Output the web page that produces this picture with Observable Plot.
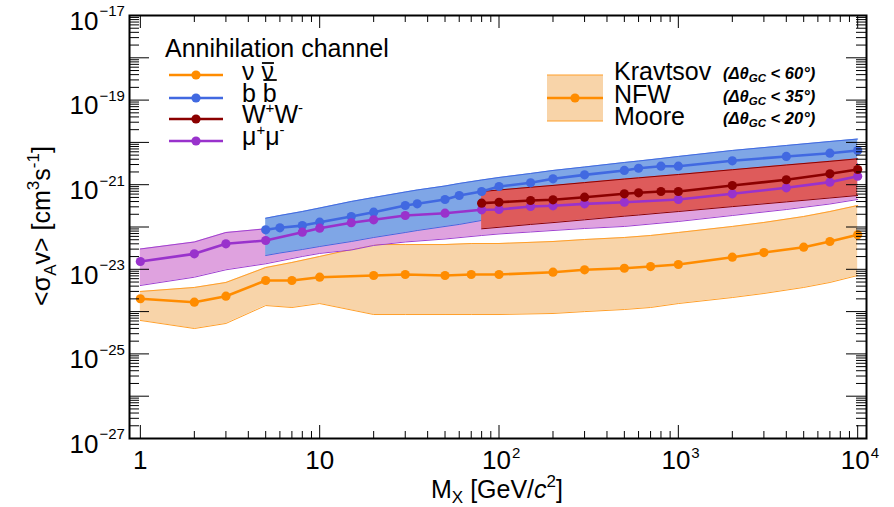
<!DOCTYPE html>
<html>
<head>
<meta charset="utf-8">
<script src="https://cdn.jsdelivr.net/npm/d3@7"></script>
<script src="https://cdn.jsdelivr.net/npm/@observablehq/plot@0.6"></script>
<style>
  body { margin: 0; background: #fff; }
  #chart svg { display: block; }
</style>
</head>
<body>
<div id="chart"></div>
<script>
// ---------------- data ----------------
// nu nu-bar channel (orange)
const massNu = [1,2,3,5,7,10,20,30,50,70,100,200,300,500,700,1000,2000,3000,5000,7000,10000];
const nuVal  = [2.01e-24,1.67e-24,2.31e-24,5.43e-24,5.43e-24,6.50e-24,7.13e-24,7.54e-24,7.13e-24,7.54e-24,7.54e-24,8.53e-24,9.73e-24,1.06e-23,1.16e-23,1.30e-23,1.93e-23,2.49e-23,3.33e-23,4.54e-23,6.55e-23];
const nuLow  = [6.17e-25,3.98e-25,5.24e-25,1.39e-24,1.25e-24,1.55e-24,8.53e-25,8.53e-25,8.53e-25,8.53e-25,8.53e-25,9.02e-25,1.00e-24,1.12e-24,1.25e-24,1.55e-24,2.15e-24,2.68e-24,3.72e-24,4.88e-24,7.13e-24];
const nuHigh = [2.99e-24,3.72e-24,4.88e-24,1.10e-23,1.45e-23,2.01e-23,3.85e-23,3.85e-23,3.85e-23,4.07e-23,4.07e-23,4.54e-23,5.06e-23,5.65e-23,6.30e-23,7.41e-23,1.03e-22,1.28e-22,1.77e-22,2.32e-22,3.22e-22];

// mu+ mu- channel (purple)
const massMu = [1,2,3,5,8,10,15,20,30,50,80,100,150,200,300,500,1000,2000,4000,7000,10000];
const muVal  = [1.53e-23,2.32e-23,4.01e-23,4.80e-23,7.53e-23,9.37e-23,1.26e-22,1.48e-22,1.87e-22,2.12e-22,2.55e-22,2.59e-22,3.05e-22,3.17e-22,3.53e-22,3.85e-22,4.47e-22,6.10e-22,8.45e-22,1.15e-21,1.59e-21];
const muLow  = [4.14e-24,6.50e-24,9.73e-24,1.35e-23,2.01e-23,2.37e-23,2.86e-23,3.66e-23,4.42e-23,5.20e-23,6.30e-23,6.84e-23,7.62e-23,8.26e-23,9.22e-23,1.03e-22,1.35e-22,1.87e-22,2.59e-22,3.50e-22,4.47e-22];
const muHigh = [3.02e-23,4.42e-23,7.41e-23,9.06e-23,1.28e-22,1.59e-22,2.20e-22,2.59e-22,3.22e-22,3.79e-22,4.47e-22,4.72e-22,5.56e-22,5.86e-22,6.55e-22,7.29e-22,9.06e-22,1.26e-21,1.74e-21,2.42e-21,3.17e-21];

// b b-bar channel (blue)
const massB = [5,6,8,10,15,20,30,35,50,60,80,100,150,200,300,500,600,800,1000,2000,4000,7000,10000];
const bVal  = [8.59e-23,9.57e-23,1.08e-22,1.30e-22,1.77e-22,2.24e-22,3.22e-22,3.53e-22,4.47e-22,5.56e-22,6.90e-22,9.06e-22,1.11e-21,1.38e-21,1.71e-21,2.17e-21,2.45e-21,2.74e-21,2.74e-21,3.67e-21,4.65e-21,5.56e-21,6.44e-21];
const bLow  = [2.12e-23,2.43e-23,2.94e-23,3.46e-23,4.54e-23,5.65e-23,7.41e-23,8.26e-23,1.03e-22,1.15e-22,1.43e-22,1.63e-22,2.08e-22,2.45e-22,3.05e-22,4.01e-22,4.35e-22,4.98e-22,5.41e-22,6.55e-22,7.91e-22,9.06e-22,1.01e-21];
const bHigh = [1.61e-22,1.87e-22,2.32e-22,2.81e-22,4.01e-22,4.98e-22,6.71e-22,7.50e-22,9.31e-22,1.07e-21,1.29e-21,1.48e-21,1.84e-21,2.17e-21,2.62e-21,3.35e-21,3.63e-21,4.16e-21,4.65e-21,6.44e-21,8.45e-21,1.05e-20,1.20e-20];

// W+ W- channel (dark red)
const massW = [80,100,150,200,300,500,600,800,1000,2000,4000,7000,10000];
const wVal  = [3.66e-22,3.85e-22,4.23e-22,4.40e-22,5.06e-22,6.10e-22,6.44e-22,6.90e-22,6.90e-22,9.57e-22,1.31e-21,1.81e-21,2.29e-21];
const wLow  = [9.06e-23,9.84e-23,1.15e-22,1.27e-22,1.48e-22,1.80e-22,1.92e-22,2.14e-22,2.32e-22,3.03e-22,3.92e-22,4.85e-22,5.56e-22];
const wHigh = [6.90e-22,7.50e-22,8.69e-22,9.62e-22,1.12e-21,1.36e-21,1.45e-21,1.61e-21,1.74e-21,2.26e-21,2.92e-21,3.57e-21,4.09e-21];

// axes
const xDomain = [0.87, 1.12e4];
const yDomain = [1e-27, 1e-17];
const xLabelVals = [1, 10, 100, 1000, 10000];
const xLabelBase = ["1", "10", "10", "10", "10"];
const xLabelExp  = ["", "", "2", "3", "4"];
const yLabelVals = [1e-17, 1e-19, 1e-21, 1e-23, 1e-25, 1e-27];
const yLabelExp  = ["\u221217", "\u221219", "\u221221", "\u221223", "\u221225", "\u221227"];

// legend texts
const channelTitle = "Annihilation channel";
const profileNames = ["Kravtsov", "NFW", "Moore"];
const profileCuts  = ["60°", "35°", "20°"];

// ---------------- styles ----------------
const FONT = '"Liberation Sans", Arial, Helvetica, sans-serif';
const C = {
  nu: {fill: "#f8d4a9", edge: "#ff9f2a", line: "#ff8c00"},
  mu: {fill: "#dfa2df", edge: "#a040d0", line: "#9932cc"},
  b:  {fill: "#7fa6e6", edge: "#4169e1", line: "#4169e1"},
  w:  {fill: "#de5b5b", edge: "#8b0000", line: "#8b0000"}
};
const W = 894, H = 507, mL = 129, mR = 28, mT = 15, mB = 69;
const innerW = W - mL - mR, innerH = H - mT - mB;

function rows(m, v, lo, hi) { return m.map((x, i) => ({x, v: v[i], lo: lo[i], hi: hi[i]})); }
const nu = rows(massNu, nuVal, nuLow, nuHigh);
const mu = rows(massMu, muVal, muLow, muHigh);
const bb = rows(massB, bVal, bLow, bHigh);
const ww = rows(massW, wVal, wLow, wHigh);

// tick positions (log decades and sub-decades)
const majorX = [1, 10, 100, 1000, 10000];
const minorX = [1, 10, 100, 1000].flatMap(d => d3.range(2, 10).map(k => k * d));
const majorY = d3.range(-27, -16).map(e => Math.pow(10, e));
const minorY = d3.range(-27, -17).flatMap(e => d3.range(2, 10).map(k => k * Math.pow(10, e)));

function bandMarks(data, c) {
  return [
    Plot.areaY(data, {x: "x", y1: "lo", y2: "hi", fill: c.fill}),
    Plot.lineY(data, {x: "x", y: "lo", stroke: c.edge, strokeWidth: 1}),
    Plot.lineY(data, {x: "x", y: "hi", stroke: c.edge, strokeWidth: 1})
  ];
}
function seriesMarks(data, c) {
  return [
    Plot.lineY(data, {x: "x", y: "v", stroke: c.line, strokeWidth: 2.6}),
    Plot.dot(data, {x: "x", y: "v", r: 4.6, fill: c.line, stroke: "none"})
  ];
}

const plain = xLabelVals.filter((_, i) => !xLabelExp[i]);
const powered = xLabelVals.filter((_, i) => xLabelExp[i]);

const plot = Plot.plot({
  width: W, height: H,
  marginLeft: mL, marginRight: mR, marginTop: mT, marginBottom: mB,
  style: {fontFamily: FONT, background: "white", color: "black"},
  x: {type: "log", domain: xDomain, axis: null},
  y: {type: "log", domain: yDomain, axis: null},
  marks: [
    ...bandMarks(nu, C.nu),
    ...bandMarks(mu, C.mu),
    ...bandMarks(bb, C.b),
    ...bandMarks(ww, C.w),
    ...seriesMarks(nu, C.nu),
    ...seriesMarks(bb, C.b),
    ...seriesMarks(mu, C.mu),
    ...seriesMarks(ww, C.w),
    // ticks: bottom / top
    Plot.tickX(majorX, {x: d => d, insetTop: innerH - 13, stroke: "black"}),
    Plot.tickX(minorX, {x: d => d, insetTop: innerH - 7, stroke: "black"}),
    Plot.tickX(majorX, {x: d => d, insetBottom: innerH - 13, stroke: "black"}),
    Plot.tickX(minorX, {x: d => d, insetBottom: innerH - 7, stroke: "black"}),
    // ticks: left / right
    Plot.tickY(majorY, {y: d => d, insetRight: innerW - 20, stroke: "black"}),
    Plot.tickY(minorY, {y: d => d, insetRight: innerW - 10, stroke: "black"}),
    Plot.tickY(majorY, {y: d => d, insetLeft: innerW - 20, stroke: "black"}),
    Plot.tickY(minorY, {y: d => d, insetLeft: innerW - 10, stroke: "black"}),
    Plot.frame({stroke: "black", strokeWidth: 2}),
    // x tick labels
    Plot.text(plain, {x: d => d, frameAnchor: "bottom", text: d => xLabelBase[xLabelVals.indexOf(d)], dy: 30, fontSize: 26, fill: "black"}),
    Plot.text(powered, {x: d => d, frameAnchor: "bottom", text: d => xLabelBase[xLabelVals.indexOf(d)], textAnchor: "end", dx: 12, dy: 30, fontSize: 26, fill: "black"}),
    Plot.text(powered, {x: d => d, frameAnchor: "bottom", text: d => xLabelExp[xLabelVals.indexOf(d)], textAnchor: "start", dx: 13, dy: 19, fontSize: 15, fill: "black"}),
    // y tick labels
    Plot.text(yLabelVals, {y: d => d, frameAnchor: "left", text: () => "10", textAnchor: "end", dx: -31, dy: 6, fontSize: 26, fill: "black"}),
    Plot.text(yLabelVals, {y: d => d, frameAnchor: "left", text: (d, i) => yLabelExp[i], textAnchor: "start", dx: -30, dy: -4, fontSize: 15, fill: "black"})
  ]
});

document.getElementById("chart").appendChild(plot);

// ---------------- titles and legends ----------------
const svg = d3.select(plot);
const g = svg.append("g").attr("font-family", FONT).attr("fill", "black").attr("text-anchor", "start");

// y axis title
const yt = g.append("text")
  .attr("transform", "translate(50,226) rotate(-90)")
  .attr("text-anchor", "middle").attr("font-size", 25);
yt.append("tspan").text("<\u03c3");
yt.append("tspan").attr("font-size", 17).attr("dy", 6).text("A");
yt.append("tspan").attr("dy", -6).text("v> [cm");
yt.append("tspan").attr("font-size", 17).attr("dy", -11).text("3");
yt.append("tspan").attr("dy", 11).text("s");
yt.append("tspan").attr("font-size", 17).attr("dy", -11).text("-1");
yt.append("tspan").attr("dy", 11).text("]");

// x axis title
const xt = g.append("text")
  .attr("x", 497).attr("y", 498)
  .attr("text-anchor", "middle").attr("font-size", 25);
xt.append("tspan").text("M");
xt.append("tspan").attr("font-size", 17).attr("dy", 5).text("X");
xt.append("tspan").attr("dy", -5).text(" [GeV/");
xt.append("tspan").attr("font-style", "italic").text("c");
xt.append("tspan").attr("font-size", 17).attr("dy", -11).text("2");
xt.append("tspan").attr("dy", 11).text("]");

// channel legend
g.append("text").attr("x", 165).attr("y", 57).attr("font-size", 25).text(channelTitle);
const entries = [
  {c: C.nu, y: 75, base: 80},
  {c: C.b,  y: 98, base: 102},
  {c: C.w,  y: 119, base: 123},
  {c: C.mu, y: 141, base: 145}
];
entries.forEach(e => {
  g.append("line").attr("x1", 169).attr("x2", 223).attr("y1", e.y).attr("y2", e.y)
    .attr("stroke", e.c.line).attr("stroke-width", 2.6);
  g.append("circle").attr("cx", 196).attr("cy", e.y).attr("r", 4.6).attr("fill", e.c.line);
});
// labels (second glyph gets a bar drawn above it)
function barred(base, glyph, barY) {
  const t = g.append("text").attr("x", 242).attr("y", base).attr("font-size", 25).text(glyph + " " + glyph);
  const node = t.node();
  const s = node.getStartPositionOfChar(2).x, e = node.getEndPositionOfChar(2).x;
  g.append("line").attr("x1", s + 0.5).attr("x2", e).attr("y1", barY).attr("y2", barY)
    .attr("stroke", "black").attr("stroke-width", 1.8);
}
barred(entries[0].base, "\u03bd", 63);
barred(entries[1].base, "b", 80);
const l2 = g.append("text").attr("x", 242).attr("y", entries[2].base).attr("font-size", 25);
l2.append("tspan").text("W");
l2.append("tspan").attr("font-size", 15).attr("dy", -10).text("+");
l2.append("tspan").attr("dy", 10).text("W");
l2.append("tspan").attr("font-size", 15).attr("dy", -10).text("-");
const l3 = g.append("text").attr("x", 242).attr("y", entries[3].base).attr("font-size", 25);
l3.append("tspan").text("\u03bc");
l3.append("tspan").attr("font-size", 15).attr("dy", -10).text("+");
l3.append("tspan").attr("dy", 10).text("\u03bc");
l3.append("tspan").attr("font-size", 15).attr("dy", -10).text("-");

// profile legend
g.append("rect").attr("x", 547).attr("y", 75).attr("width", 56).attr("height", 46).attr("fill", C.nu.fill);
g.append("line").attr("x1", 547).attr("x2", 603).attr("y1", 75).attr("y2", 75).attr("stroke", C.nu.edge).attr("stroke-width", 1);
g.append("line").attr("x1", 547).attr("x2", 603).attr("y1", 121).attr("y2", 121).attr("stroke", C.nu.edge).attr("stroke-width", 1);
g.append("line").attr("x1", 547).attr("x2", 603).attr("y1", 98).attr("y2", 98).attr("stroke", C.nu.line).attr("stroke-width", 2.6);
g.append("circle").attr("cx", 575).attr("cy", 98).attr("r", 4.6).attr("fill", C.nu.line);
const pBase = [80, 103, 125];
profileNames.forEach((n, i) => {
  g.append("text").attr("x", 614).attr("y", pBase[i]).attr("font-size", 25).text(n);
  const t = g.append("text").attr("x", 723).attr("y", pBase[i] - 1)
    .attr("font-size", 16.5).attr("font-weight", "bold").attr("font-style", "italic");
  t.append("tspan").text("(\u0394\u03b8");
  t.append("tspan").attr("font-size", 11.5).attr("dy", 3).text("GC");
  t.append("tspan").attr("dy", -3).text(" < " + profileCuts[i] + ")");
});
</script>
</body>
</html>
